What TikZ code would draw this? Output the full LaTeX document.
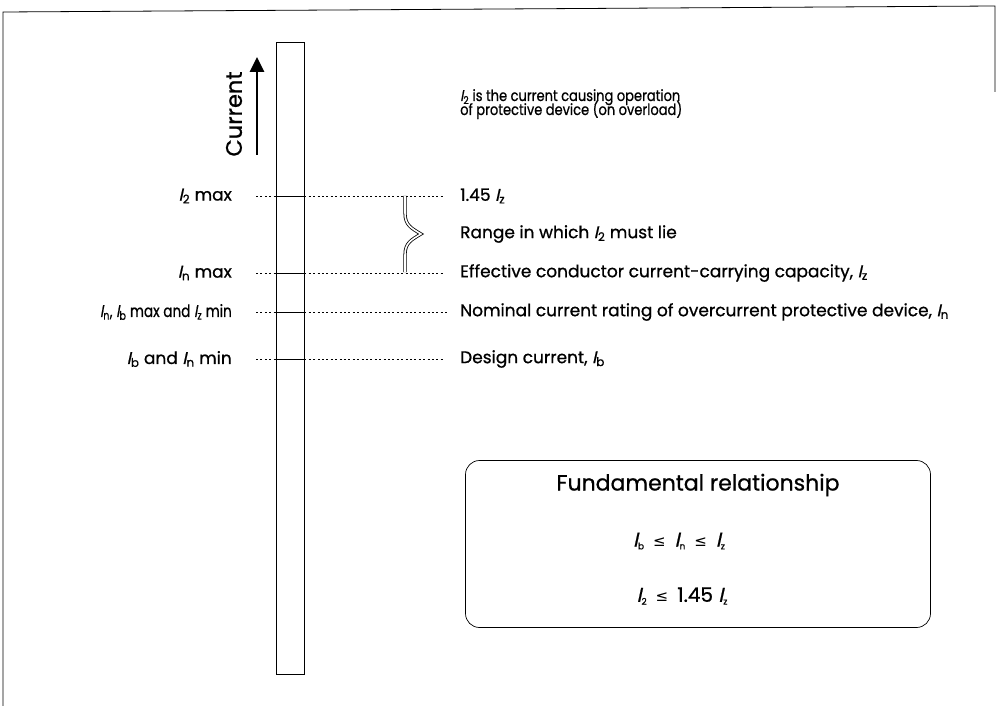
\documentclass[tikz,border=0pt]{standalone}
\usepackage{fontspec}
\setmainfont{Poppins}[FakeBold=0.8]
\newfontfamily\slantfont{Poppins}[FakeSlant=0.22, FakeBold=0.8]
\newfontfamily\symfont{DejaVu Sans}
\usetikzlibrary{arrows.meta,positioning,calc}

\newcommand{\Isub}[1]{{\slantfont I}\textsubscript{#1}}
\newcommand{\Ibox}[1]{{\slantfont I}\raisebox{-0.25ex}{\fontsize{9}{9}\selectfont #1}}
\newcommand{\lesym}{\hspace{9pt}{\symfont\fontsize{15}{15}\selectfont ≤}\hspace{9pt}}

\begin{document}
\begin{tikzpicture}[
  x=1pt, y=-1pt,
  >=Stealth,
  leftlabel/.style={
    anchor=east,
    inner sep=0pt,
    font=\fontsize{17}{17}\selectfont
  },
  rightlabel/.style={
    anchor=west,
    inner sep=0pt,
    font=\fontsize{17}{17}\selectfont
  },
  leveldash/.style={
    line width=0.5pt,
    dash pattern=on 2pt off 2.4pt
  },
  leveltick/.style={
    line width=0.9pt
  },
  relbox/.style={
    draw,
    line width=0.7pt,
    rounded corners=14pt,
    minimum width=465pt,
    minimum height=167pt
  },
  boxtext/.style={
    inner sep=0pt,
    font=\fontsize{20}{20}\selectfont
  }
]

  % ----------------------------------------------------
  % PAGE EDGE AND CURRENT BAR
  % ----------------------------------------------------
  \useasboundingbox (0,0) rectangle (997,706);
  \draw[line width=0.8pt] (3,706) -- (3,12) -- (995,6) -- (995,92);

  \node[draw, line width=0.6pt, minimum width=28pt, minimum height=632pt, inner sep=0pt] (bar) at (290,358) {};

  % Current arrow
  \node[rotate=90, inner sep=0pt, font=\fontsize{22.5}{22.5}\selectfont] (curlab) at (234,114) {Current};
  \coordinate (arrowfoot) at (257,155);
  \coordinate (arrowtip) at (257,57);
  \draw[-{Triangle[length=15pt,width=14pt]}, line width=2.8pt] (arrowfoot) -- (arrowtip);

  % Note at the top
  \node[anchor=base west, inner sep=0pt, font=\fontsize{15.5}{15.5}\selectfont] (noteone) at (460,101)
    {\scalebox{0.84}[1]{\Isub{2} is the current causing operation}};
  \node[anchor=base west, inner sep=0pt, font=\fontsize{15.5}{15.5}\selectfont] (notetwo) at (460,115)
    {\scalebox{0.84}[1]{of protective device (on overload)}};

  % ----------------------------------------------------
  % CURRENT LEVELS
  % ----------------------------------------------------
  % Level 1: I2 max
  \node[leftlabel] (l1) at (232,196) {\Isub{2} max};
  \node[rightlabel] (r1) at (460,196) {1.45 \Isub{z}};

  % Level 2: In max
  \node[leftlabel] (l2) at (232,273) {\Isub{n} max};
  \node[rightlabel] (r2) at (460,273) {Effective conductor current-carrying capacity, \Isub{z}};

  % Level 3: In
  \node[leftlabel] (l3) at (232,312) {\scalebox{0.8}[1]{\Isub{n}, \Isub{b} max and \Isub{z} min}};
  \node[rightlabel] (r3) at (460,312) {Nominal current rating of overcurrent protective device, \Isub{n}};

  % Level 4: Ib
  \node[leftlabel] (l4) at (232,359) {\Isub{b} and \Isub{n} min};
  \node[rightlabel] (r4) at (460,359) {Design current, \Isub{b}};

  % Dashed leaders and ticks across the bar
  \draw[leveldash] ([xshift=24pt]l1.east) -- (bar.west |- l1.east);
  \draw[leveltick] (bar.west |- l1.east) -- (bar.east |- l1.east);
  \draw[leveldash] (bar.east |- l1.east) -- ([xshift=-17pt]r1.west);

  \draw[leveldash] ([xshift=24pt]l2.east) -- (bar.west |- l2.east);
  \draw[leveltick] (bar.west |- l2.east) -- (bar.east |- l2.east);
  \draw[leveldash] (bar.east |- l2.east) -- ([xshift=-17pt]r2.west);

  \draw[leveldash] ([xshift=24pt]l3.east) -- (bar.west |- l3.east);
  \draw[leveltick] (bar.west |- l3.east) -- (bar.east |- l3.east);
  \draw[leveldash] (bar.east |- l3.east) -- ([xshift=-13pt]r3.west);

  \draw[leveldash] ([xshift=24pt]l4.east) -- (bar.west |- l4.east);
  \draw[leveltick] (bar.west |- l4.east) -- (bar.east |- l4.east);
  \draw[leveldash] (bar.east |- l4.east) -- ([xshift=-17pt]r4.west);

  % Brace for the range of I2
  \node[rightlabel] (range) at (460,234) {Range in which \Isub{2} must lie};
  \coordinate (bracetop) at (405,196);
  \coordinate (bracetip) at (421,234);
  \coordinate (bracebot) at (405,272);
  \draw[double, double distance=1.6pt, line width=0.8pt]
    (bracetop) -- ++(0,17) .. controls +(0,12) and (411,228) .. (bracetip)
    .. controls (411,240) and (405,243) .. (405,255) -- (bracebot);

  % ----------------------------------------------------
  % FUNDAMENTAL RELATIONSHIP BOX
  % ----------------------------------------------------
  \node[relbox] (relation) at (698,544) {};
  \node[inner sep=0pt, font=\fontsize{22}{22}\selectfont] (reltitle) at (698,485) {Fundamental relationship};
  \node[boxtext] (relone) at (679,541) {\Ibox{b}\lesym\Ibox{n}\lesym\Ibox{z}};
  \node[boxtext] (reltwo) at (682,596) {\Ibox{2}\lesym 1.45 \Ibox{z}};

\end{tikzpicture}
\end{document}
